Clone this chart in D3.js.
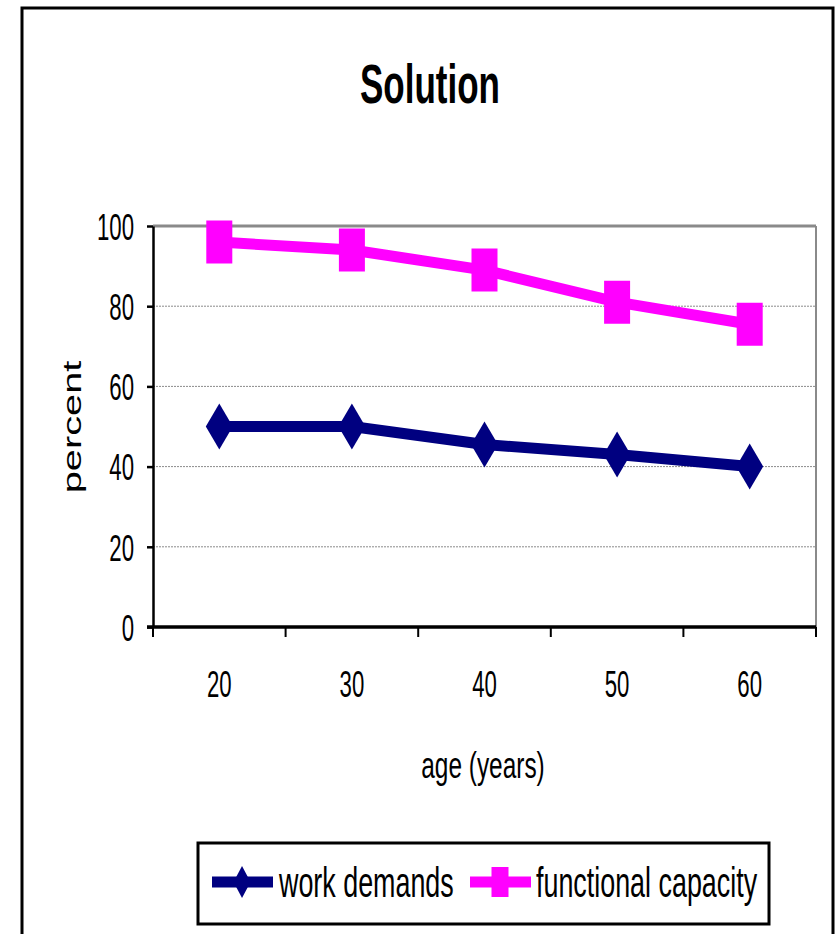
<!DOCTYPE html>
<html><head><meta charset="utf-8">
<script src="https://cdn.jsdelivr.net/npm/d3@7"></script>
<style>html,body{margin:0;padding:0;background:#fff;}svg{display:block;}</style>
</head><body>
<svg id="c" width="837" height="934"></svg>
<script>
const categories = ["20","30","40","50","60"];
const workDemands = [50, 50, 45.5, 43, 40];
const functionalCapacity = [96, 94, 89, 81, 75.5];
const yTicks = [0, 20, 40, 60, 80, 100];
const seriesNames = ["work demands", "functional capacity"];
const title = "Solution";
const xTitle = "age (years)";
const yTitle = "percent";

const FONT = "'Liberation Sans', Arial, sans-serif";
const SX = 0.6;
const svg = d3.select("#c");
const navy = "#000080", magenta = "#FF00FF";

// outer frame
svg.append("rect").attr("x", 22).attr("y", 8).attr("width", 811).attr("height", 940)
  .attr("fill", "#fff").attr("stroke", "#000").attr("stroke-width", 3);

const L = 153, R = 816, T = 226, B = 627;
const x = d3.scaleBand().domain(categories).range([L, R]).padding(0);
const y = d3.scaleLinear().domain([0, 100]).range([B, T]);

// gridlines
svg.append("g").selectAll("line").data(yTicks.filter(d => d > 0 && d < 100)).join("line")
  .attr("x1", L).attr("x2", R).attr("y1", d => y(d)).attr("y2", d => y(d))
  .attr("stroke", "#8a8a8a").attr("stroke-width", 1).attr("stroke-dasharray", "2,1");
// plot border top/right
svg.append("line").attr("x1", L).attr("x2", R).attr("y1", y(100)).attr("y2", y(100))
  .attr("stroke", "#8a8a8a").attr("stroke-width", 3);
svg.append("line").attr("x1", R).attr("x2", R).attr("y1", y(100)).attr("y2", B)
  .attr("stroke", "#8a8a8a").attr("stroke-width", 2);

// y axis
const yAxis = svg.append("g").attr("transform", `translate(${L},0)`)
  .call(d3.axisLeft(y).tickValues(yTicks).tickSize(6).tickSizeOuter(0));
yAxis.select(".domain").attr("stroke", "#000").attr("stroke-width", 2.5);
yAxis.selectAll(".tick line").attr("stroke", "#000").attr("stroke-width", 2.5);
yAxis.selectAll(".tick text").attr("font-family", FONT).attr("font-size", 37).attr("fill", "#000")
  .attr("x", -19 / SX).attr("dy", "0.36em").attr("transform", `scale(${SX},1)`);

// x axis boundary ticks
const bounds = categories.map(c => x(c)).concat([x(categories[categories.length - 1]) + x.bandwidth()]);
svg.append("g").selectAll("line").data(bounds).join("line")
  .attr("x1", d => d).attr("x2", d => d).attr("y1", B).attr("y2", B + 10)
  .attr("stroke", "#000").attr("stroke-width", 2);
svg.append("line").attr("x1", L - 6).attr("x2", R).attr("y1", B).attr("y2", B)
  .attr("stroke", "#000").attr("stroke-width", 3.5);
// x labels
svg.append("g").selectAll("text").data(categories).join("text")
  .attr("transform", d => `translate(${x(d) + x.bandwidth() / 2},697) scale(${SX},1)`)
  .attr("text-anchor", "middle").attr("font-family", FONT).attr("font-size", 37).text(d => d);

// titles
svg.append("text").attr("transform", `translate(430,103) scale(0.625,1)`)
  .attr("text-anchor", "middle").attr("font-family", FONT).attr("font-weight", "bold")
  .attr("font-size", 56).text(title);
svg.append("text").attr("transform", `translate(483,778) scale(0.66,1)`)
  .attr("text-anchor", "middle").attr("font-family", FONT).attr("font-size", 37).text(xTitle);
svg.append("text").attr("transform", `translate(81,427) rotate(-90) scale(1.53,1)`)
  .attr("text-anchor", "middle").attr("font-family", FONT).attr("font-size", 26).text(yTitle);

// series
const cx = d => x(d) + x.bandwidth() / 2;
const line = d3.line().x(d => cx(d[0])).y(d => y(d[1]));
const diamond = (w, h) => `M0,${-h/2}L${w/2},0L0,${h/2}L${-w/2},0Z`;
const square = (w, h) => `M${-w/2},${-h/2}h${w}v${h}h${-w}Z`;

function drawSeries(vals, color, shape) {
  const pts = categories.map((c, i) => [c, vals[i]]);
  svg.append("path").datum(pts).attr("d", line).attr("fill", "none")
    .attr("stroke", color).attr("stroke-width", 11).attr("stroke-linejoin", "round");
  svg.append("g").selectAll("path").data(pts).join("path")
    .attr("transform", d => `translate(${cx(d[0])},${y(d[1])})`)
    .attr("d", shape).attr("fill", color);
}
drawSeries(workDemands, navy, diamond(27, 46));
drawSeries(functionalCapacity, magenta, square(26, 43));

// legend
const lg = svg.append("g");
lg.append("rect").attr("x", 198).attr("y", 843).attr("width", 571).attr("height", 81)
  .attr("fill", "#fff").attr("stroke", "#000").attr("stroke-width", 3);
const items = [
  {name: seriesNames[0], color: navy, shape: diamond(17, 32), x0: 212, tx: 279},
  {name: seriesNames[1], color: magenta, shape: square(17, 30), x0: 470, tx: 536}
];
items.forEach(it => {
  lg.append("line").attr("x1", it.x0).attr("x2", it.x0 + 61).attr("y1", 882).attr("y2", 882)
    .attr("stroke", it.color).attr("stroke-width", 11);
  lg.append("path").attr("transform", `translate(${it.x0 + 30},882)`).attr("d", it.shape).attr("fill", it.color);
  lg.append("text").attr("transform", `translate(${it.tx},897) scale(0.64,1)`)
    .attr("font-family", FONT).attr("font-size", 42).text(it.name);
});
</script>
</body></html>
